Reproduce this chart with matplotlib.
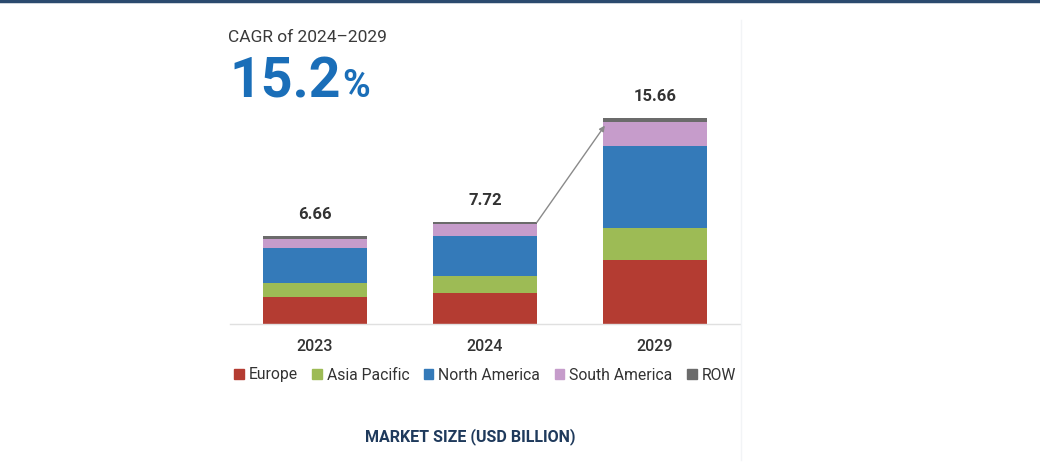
import matplotlib
matplotlib.use("Agg")
import matplotlib.pyplot as plt
from matplotlib.patches import Rectangle
from matplotlib.lines import Line2D
import numpy as np

years = ["2023", "2024", "2029"]
totals = [6.66, 7.72, 15.66]
regions = ["Europe", "Asia Pacific", "North America", "South America", "ROW"]
europe = [2.00, 2.32, 4.84]
asia_pacific = [1.08, 1.28, 2.47]
north_america = [2.68, 3.08, 6.23]
south_america = [0.72, 0.90, 1.81]
row = [0.18, 0.14, 0.31]
colors = ["#B43C32", "#9DBB55", "#347AB9", "#C69CCB", "#6B6B6B"]

plt.rcParams['font.family'] = ['Roboto', 'DejaVu Sans']

fig = plt.figure(figsize=(10.4, 4.67), dpi=100)
ax = fig.add_axes([230/1040, 1-323.5/467, 510/1040, 16.5*13.1/467])

series = [europe, asia_pacific, north_america, south_america, row]
x = np.arange(len(years))
bottom = np.zeros(len(years))
for name, vals, c in zip(regions, series, colors):
    ax.bar(x, vals, width=0.61, bottom=bottom, color=c, label=name, linewidth=0)
    bottom += np.array(vals)

for xi, t in zip(x, totals):
    ax.annotate(f"{t:.2f}", (xi, t), xytext=(0, 10), textcoords="offset points",
                ha="center", va="bottom", fontsize=12, fontweight="bold", color="#333333")

ax.set_xlim(-0.5, 2.5)
ax.set_ylim(0, 16.5)
for s in ["top", "right", "left"]:
    ax.spines[s].set_visible(False)
ax.spines["bottom"].set_color("#E0E0E0")
ax.spines["bottom"].set_linewidth(1)
ax.set_yticks([])
ax.set_xticks(x)
ax.set_xticklabels(years, fontsize=11.5, color="#333333", fontweight="medium")
ax.tick_params(axis="x", length=0, pad=11)

# arrow from 2024 top to 2029 top
ax.annotate("", xy=(2 - 0.305 + 0.01, totals[2] - 0.55), xytext=(1 + 0.305, totals[1]),
            arrowprops=dict(arrowstyle="-|>", color="#8A8A8A", lw=1.0,
                            mutation_scale=8, shrinkA=0, shrinkB=0))

handles = [Rectangle((0, 0), 1, 1, color=c) for c in colors]
fig.legend(handles, regions, loc="center", bbox_to_anchor=(485/1040, 1-375/467),
           ncol=5, frameon=False, fontsize=11.3, handlelength=0.6, handleheight=0.6,
           handletextpad=0.3, columnspacing=0.95, labelcolor="#333333")

fig.text(228/1040, 1-42/467, "CAGR of 2024\u20132029", fontsize=12.5, color="#3a3a3a",
         ha="left", va="baseline")
t = fig.text(229/1040, 1-97/467, "15.2", fontsize=40, fontweight="bold", color="#1A6EB8",
             ha="left", va="baseline")
fig.canvas.draw()
bb = t.get_window_extent()
fig.text((bb.x1 + 2)/1040, 1-97/467, "%", fontsize=27, fontweight="bold", color="#1A6EB8",
         ha="left", va="baseline")

fig.text(470/1040, 1-437/467, "MARKET SIZE (USD BILLION)",
         family=['Liberation Sans Narrow', 'Roboto', 'DejaVu Sans'],
         fontsize=11.5, fontweight="bold", color="#1F3A5C", ha="center", va="center")

# top border line and right panel divider
fig.add_artist(Line2D([0, 1], [1-1/467, 1-1/467], transform=fig.transFigure,
                      color="#2B4A6E", lw=2.5))
fig.add_artist(Line2D([741/1040, 741/1040], [1-20/467, 1-460/467], transform=fig.transFigure,
                      color="#F2F4F6", lw=1))

fig.savefig("out.png", dpi=100)
